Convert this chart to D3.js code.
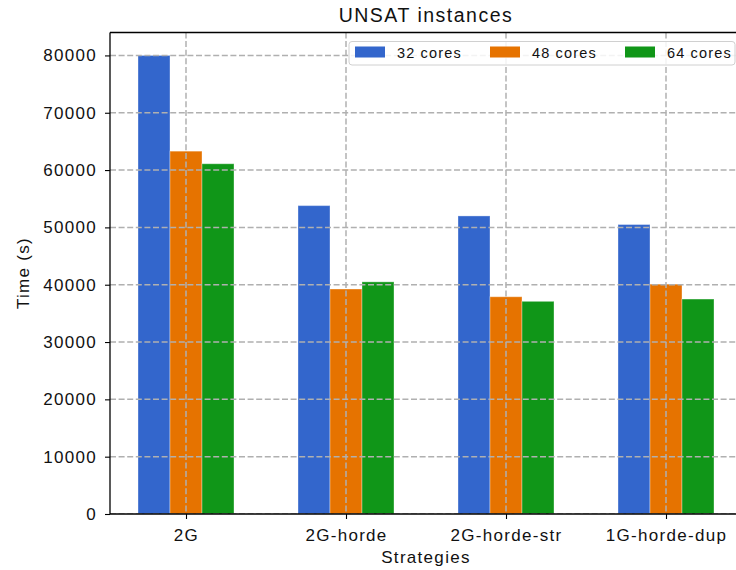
<!DOCTYPE html>
<html>
<head>
<meta charset="utf-8">
<script src="https://cdn.jsdelivr.net/npm/d3@7"></script>
<style>
  html, body { margin: 0; padding: 0; background: #fff; }
  svg { display: block; font-family: "Liberation Sans", Arial, sans-serif; }
</style>
</head>
<body>
<svg id="chart" width="736" height="570"></svg>
<script>
// Strategies on the x axis, one bar per core count
const categories = ["2G", "2G-horde", "2G-horde-str", "1G-horde-dup"];
const seriesNames = ["32 cores", "48 cores", "64 cores"];
const cores32 = [80000, 53800, 52000, 50500];
const cores48 = [63300, 39250, 37900, 40100];
const cores64 = [61100, 40500, 37100, 37500];
const yTicks = [0, 10000, 20000, 30000, 40000, 50000, 60000, 70000, 80000];
const colors = ["#3366cc", "#e67300", "#109618"];

const series = [cores32, cores48, cores64];

const svg = d3.select("#chart");
const W = 736, H = 570;
const plot = { left: 110, top: 32.5, bottom: 514 };

// index-based x scale (bars are 0.2 wide, offset -0.2 / 0 / +0.2)
const x = d3.scaleLinear().domain([-0.475, 3.48]).range([plot.left, plot.left + 3.955 * 160]);
const y = d3.scaleLinear().domain([0, 84000]).range([plot.bottom, plot.top]);
const barW = 0.2;
const offsets = [-0.2, 0, 0.2];

const clip = svg.append("defs").append("clipPath").attr("id", "plotclip")
  .append("rect").attr("x", plot.left).attr("y", plot.top)
  .attr("width", W - plot.left).attr("height", plot.bottom - plot.top);

const g = svg.append("g").attr("clip-path", "url(#plotclip)");

// bars
series.forEach((vals, si) => {
  g.selectAll(null).data(vals).enter().append("rect")
    .attr("x", (d, i) => x(i + offsets[si] - barW / 2))
    .attr("width", (d, i) => x(i + offsets[si] + barW / 2) - x(i + offsets[si] - barW / 2))
    .attr("y", d => y(d))
    .attr("height", d => y(0) - y(d))
    .attr("fill", colors[si])
    .attr("stroke", "#ffffff")
    .attr("stroke-opacity", 0.35)
    .attr("stroke-width", 1);
});

// dashed grid drawn above the bars
const grid = g.append("g").attr("stroke", "#b0b0b0").attr("stroke-width", 1.5)
  .attr("stroke-dasharray", "6,2.6");
grid.selectAll(null).data(yTicks).enter().append("line")
  .attr("x1", plot.left).attr("x2", W)
  .attr("y1", d => y(d)).attr("y2", d => y(d));
grid.selectAll(null).data(categories).enter().append("line")
  .attr("x1", (d, i) => x(i)).attr("x2", (d, i) => x(i))
  .attr("y1", plot.top).attr("y2", plot.bottom);

// axes
const yAxis = d3.axisLeft(y).tickValues(yTicks).tickSize(5).tickPadding(9)
  .tickFormat(d3.format("d"));
const yg = svg.append("g").attr("transform", `translate(${plot.left},0)`).call(yAxis);
yg.select(".domain").remove();

const xAxis = d3.axisBottom(x).tickValues(d3.range(categories.length)).tickSize(5)
  .tickPadding(10).tickFormat(i => categories[i]);
const xg = svg.append("g").attr("transform", `translate(0,${plot.bottom})`).call(xAxis);
xg.select(".domain").remove();

[yg, xg].forEach(a => {
  a.selectAll(".tick line").attr("stroke", "#000").attr("stroke-width", 1.1);
  a.selectAll(".tick text").attr("fill", "#111").style("font-size", "17px")
    .style("letter-spacing", "1.3px");
});
yg.selectAll(".tick text").attr("dx", "1px");

// spines: left, bottom, top
const spines = svg.append("g").attr("stroke", "#000").attr("stroke-width", 1.3);
spines.append("line").attr("x1", plot.left).attr("x2", plot.left).attr("y1", plot.top).attr("y2", plot.bottom);
spines.append("line").attr("x1", plot.left).attr("x2", W).attr("y1", plot.bottom).attr("y2", plot.bottom);
spines.append("line").attr("x1", plot.left).attr("x2", W).attr("y1", plot.top).attr("y2", plot.top);

// title and axis labels
svg.append("text").attr("x", 426).attr("y", 22).attr("text-anchor", "middle")
  .style("font-size", "19.5px").style("letter-spacing", "1.5px").attr("fill", "#111")
  .text("UNSAT instances");
svg.append("text").attr("x", 426).attr("y", 563).attr("text-anchor", "middle")
  .style("font-size", "17px").style("letter-spacing", "1.3px").attr("fill", "#111")
  .text("Strategies");
svg.append("text").attr("transform", "translate(29,273) rotate(-90)").attr("text-anchor", "middle")
  .style("font-size", "17px").style("letter-spacing", "1.3px").attr("fill", "#111")
  .text("Time (s)");

// legend
const lg = svg.append("g");
lg.append("rect").attr("x", 349).attr("y", 41.5).attr("width", 386).attr("height", 23.5)
  .attr("rx", 3).attr("fill", "#fff").attr("fill-opacity", 0.85)
  .attr("stroke", "#d0d0d0").attr("stroke-width", 1);
seriesNames.forEach((name, i) => {
  const x0 = 355 + i * 135;
  lg.append("rect").attr("x", x0).attr("y", 46.5).attr("width", 30).attr("height", 11)
    .attr("fill", colors[i]);
  lg.append("text").attr("x", x0 + 42).attr("y", 57.5)
    .style("font-size", "14.5px").style("letter-spacing", "1.15px").attr("fill", "#111")
    .text(name);
});
</script>
</body>
</html>
